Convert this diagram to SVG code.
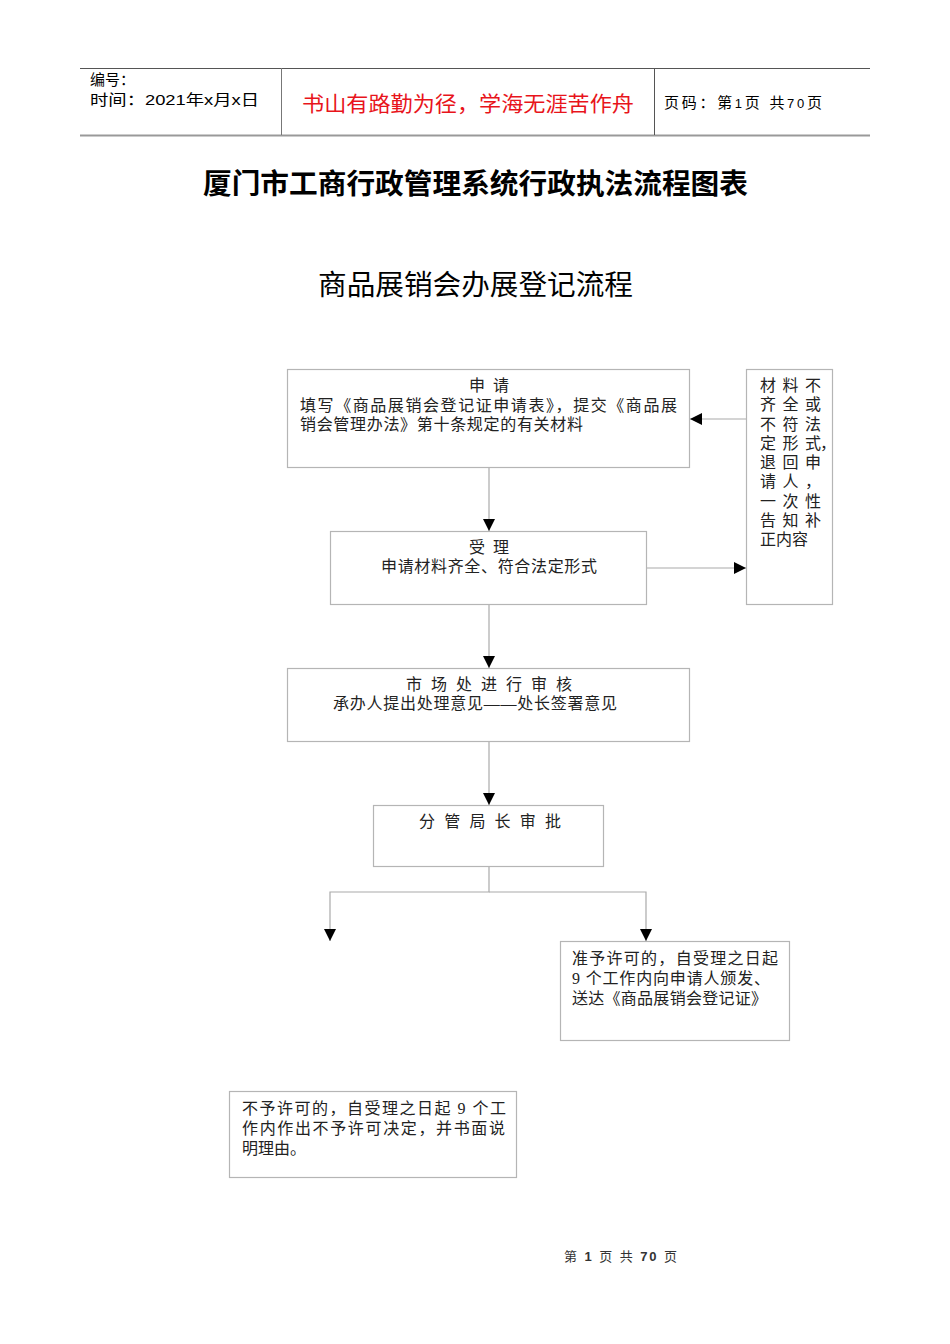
<svg xmlns="http://www.w3.org/2000/svg" width="950" height="1344" viewBox="0 0 950 1344">
<style>
.hd{font-family:"Liberation Sans","Noto Sans CJK SC",sans-serif;font-size:15px;fill:#000}
.red{font-family:"Liberation Sans","Noto Sans CJK SC",sans-serif;font-size:21px;fill:#e8141b}
.title{font-family:"Liberation Sans","Noto Sans CJK SC",sans-serif;font-size:28px;font-weight:bold;fill:#000}
.sub{font-family:"Liberation Sans","Noto Sans CJK SC",sans-serif;font-size:28px;fill:#000}
.t{font-family:"Liberation Serif","Noto Sans CJK SC",serif;font-size:16px;fill:#222}
.c{text-anchor:middle}
.box{fill:#fff;stroke:#b5b5b5;stroke-width:1.2}
.ln{fill:none;stroke:#aaa;stroke-width:1.2}
.ft{font-family:"Liberation Sans","Noto Sans CJK SC",sans-serif;font-size:13px;fill:#333}
</style>
<defs>
<marker id="ah" markerUnits="userSpaceOnUse" markerWidth="12" markerHeight="12" viewBox="0 0 10 10" refX="10" refY="5" orient="auto">
<path d="M0,0 L10,5 L0,10 Z" fill="#000"/>
</marker>
</defs>
<rect width="950" height="1344" fill="#fff"/>
<g id="header">
<line x1="80" y1="68.5" x2="870" y2="68.5" stroke="#555" stroke-width="1"/>
<line x1="80" y1="135.5" x2="870" y2="135.5" stroke="#999" stroke-width="2"/>
<line x1="281.5" y1="68" x2="281.5" y2="135" stroke="#777" stroke-width="1"/>
<line x1="654.5" y1="68" x2="654.5" y2="135" stroke="#555" stroke-width="1"/>
<text class="hd" x="90" y="85">编号：</text>
<text class="hd" x="90" y="105" textLength="169" lengthAdjust="spacingAndGlyphs">时间：2021年x月x日</text>
<text class="red" x="302" y="111" textLength="332" lengthAdjust="spacingAndGlyphs">书山有路勤为径，学海无涯苦作舟</text>
<text class="hd" x="664" y="108" textLength="158" lengthAdjust="spacing">页码：第<tspan font-size="13">1</tspan>页 共<tspan font-size="13">70</tspan>页</text>
</g>
<text class="title" x="203" y="194" textLength="545" lengthAdjust="spacingAndGlyphs">厦门市工商行政管理系统行政执法流程图表</text>
<text class="sub" x="318" y="295" textLength="315" lengthAdjust="spacingAndGlyphs">商品展销会办展登记流程</text>
<g id="connectors">
<line class="ln" x1="489" y1="468" x2="489" y2="531" marker-end="url(#ah)"/>
<line class="ln" x1="746" y1="419" x2="690" y2="419" marker-end="url(#ah)"/>
<line class="ln" x1="646" y1="568" x2="746" y2="568" marker-end="url(#ah)"/>
<line class="ln" x1="489" y1="605" x2="489" y2="668" marker-end="url(#ah)"/>
<line class="ln" x1="489" y1="742" x2="489" y2="805" marker-end="url(#ah)"/>
<polyline class="ln" points="489,866 489,892 330,892 330,941" marker-end="url(#ah)"/>
<polyline class="ln" points="489,892 646,892 646,941" marker-end="url(#ah)"/>
</g>
<g id="n-apply">
<rect class="box" x="287.5" y="369.5" width="402" height="98"/>
<text class="t" x="469" y="391" textLength="40" lengthAdjust="spacing">申 请</text>
<text class="t" x="300" y="411" textLength="377" lengthAdjust="spacing">填写《商品展销会登记证申请表》，提交《商品展</text>
<text class="t" x="300" y="430" textLength="283" lengthAdjust="spacing">销会管理办法》第十条规定的有关材料</text>
</g>
<g id="n-return">
<rect class="box" x="746.5" y="369.5" width="86" height="235"/>
<text class="t" x="760 782.5 805" y="391">材料不</text>
<text class="t" x="760 782.5 805" y="410">齐全或</text>
<text class="t" x="760 782.5 805" y="430">不符法</text>
<text class="t" x="760 782.5 805 820" y="449">定形式，</text>
<text class="t" x="760 782.5 805" y="468">退回申</text>
<text class="t" x="760 782.5 805" y="487">请人，</text>
<text class="t" x="760 782.5 805" y="507">一次性</text>
<text class="t" x="760 782.5 805" y="526">告知补</text>
<text class="t" x="760" y="545">正内容</text>
</g>
<g id="n-accept">
<rect class="box" x="330.5" y="531.5" width="316" height="73"/>
<text class="t" x="469" y="553" textLength="40" lengthAdjust="spacing">受 理</text>
<text class="t" x="381" y="572" textLength="216" lengthAdjust="spacing">申请材料齐全、符合法定形式</text>
</g>
<g id="n-review">
<rect class="box" x="287.5" y="668.5" width="402" height="73"/>
<text class="t" x="406" y="690" textLength="166" lengthAdjust="spacing">市 场 处 进 行 审 核</text>
<text class="t" x="333" y="709" textLength="284" lengthAdjust="spacing">承办人提出处理意见——处长签署意见</text>
</g>
<g id="n-approve">
<rect class="box" x="373.5" y="805.5" width="230" height="61"/>
<text class="t" x="419" y="827" textLength="142" lengthAdjust="spacing">分 管 局 长 审 批</text>
</g>
<g id="n-grant">
<rect class="box" x="560.5" y="941.5" width="229" height="99"/>
<text class="t" x="572" y="964" textLength="206" lengthAdjust="spacing">准予许可的，自受理之日起</text>
<text class="t" x="572" y="984" textLength="198" lengthAdjust="spacing">9 个工作内向申请人颁发、</text>
<text class="t" x="572" y="1004" textLength="195" lengthAdjust="spacing">送达《商品展销会登记证》</text>
</g>
<g id="n-deny">
<rect class="box" x="229.5" y="1091.5" width="287" height="86"/>
<text class="t" x="242" y="1114" textLength="264" lengthAdjust="spacing">不予许可的，自受理之日起 9 个工</text>
<text class="t" x="242" y="1134" textLength="263" lengthAdjust="spacing">作内作出不予许可决定，并书面说</text>
<text class="t" x="242" y="1154">明理由。</text>
</g>
<text class="ft" x="564" y="1261" textLength="113" lengthAdjust="spacing" xml:space="preserve">第 <tspan font-weight="bold">1</tspan> 页 共 <tspan font-weight="bold">70</tspan> 页</text>
</svg>
